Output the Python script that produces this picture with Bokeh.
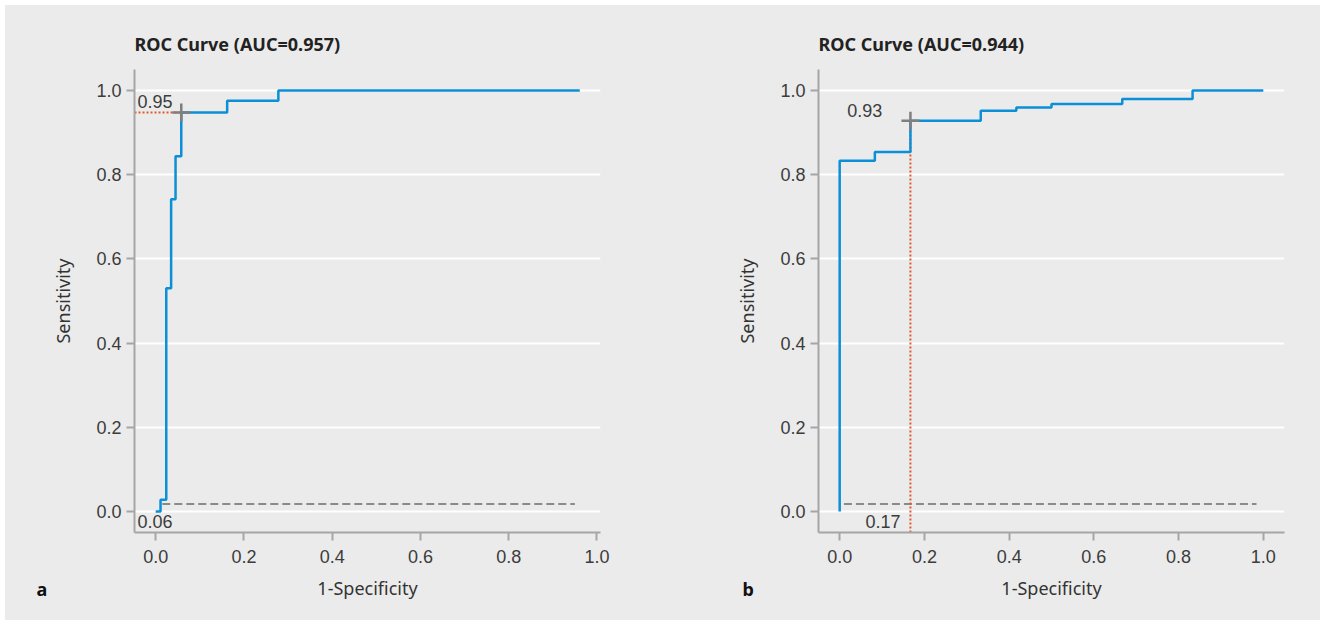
from bokeh.plotting import figure
from bokeh.layouts import row
from bokeh.models import Range1d, FixedTicker, NumeralTickFormatter, Label, Title
from bokeh.embed import file_html
from bokeh.resources import INLINE

# ---------------- data ----------------
titles = ["ROC Curve (AUC=0.957)", "ROC Curve (AUC=0.944)"]
panel_letters = ["a", "b"]
ticks = [0.0, 0.2, 0.4, 0.6, 0.8, 1.0]

fpr_a = [0.0, 0.011, 0.011, 0.024, 0.024, 0.035, 0.035, 0.045, 0.045, 0.058, 0.058,
         0.162, 0.162, 0.278, 0.278, 0.961]
tpr_a = [0.0, 0.0, 0.028, 0.028, 0.53, 0.53, 0.742, 0.742, 0.844, 0.844, 0.948,
         0.948, 0.976, 0.976, 1.0, 1.0]

fpr_b = [0.0, 0.0, 0.083, 0.083, 0.167, 0.167, 0.333, 0.333, 0.417, 0.417, 0.5,
         0.5, 0.667, 0.667, 0.833, 0.833, 1.0]
tpr_b = [0.0, 0.833, 0.833, 0.854, 0.854, 0.928, 0.928, 0.952, 0.952, 0.96, 0.96,
         0.968, 0.968, 0.98, 0.98, 1.0, 1.0]

opt_a = [0.058, 0.948]          # optimal cut-off point (1-spec, sens)
opt_b = [0.167, 0.928]
opt_text_a = ["0.06", "0.95"]
opt_text_b = ["0.17", "0.93"]

ref_x_a = [0.015, 0.95]         # grey dashed reference line
ref_x_b = [0.01, 0.984]
ref_y = 0.018

x_ranges = [(-0.048, 1.008), (-0.05, 1.05)]
y_range = (-0.05, 1.05)

# ---------------- style ----------------
BG = "#ebebeb"
BLUE = "#0b8fd6"
RED = "#e0592f"
GREY_LINE = "#8a8a8a"
AXIS = "#a6a6a6"
TICK_TXT = "#3c3c3c"


def make_panel(i, fpr, tpr, opt, opt_text, ref_x, border_left, border_right,
               lab_pos, letter_offset):
    p = figure(frame_width=466, frame_height=463,
               x_range=Range1d(*x_ranges[i]), y_range=Range1d(*y_range),
               output_backend="svg", toolbar_location=None,
               min_border_left=border_left, min_border_right=border_right,
               min_border_top=64, min_border_bottom=88,
               background_fill_color=BG, border_fill_color=BG,
               outline_line_color=None)
    p.title.text = titles[i]
    p.title.align = "left"
    p.title.text_font = "Noto Sans"
    p.title.text_font_size = "18px"
    p.title.text_font_style = "bold"
    p.title.text_color = "#222222"
    p.title.standoff = 28

    p.xgrid.grid_line_color = None
    p.ygrid.grid_line_color = "white"
    p.ygrid.grid_line_width = 2

    for ax in (p.xaxis[0], p.yaxis[0]):
        ax.ticker = FixedTicker(ticks=ticks)
        ax.formatter = NumeralTickFormatter(format="0.0")
        ax.axis_line_color = AXIS
        ax.axis_line_width = 2
        ax.major_tick_line_color = AXIS
        ax.major_tick_line_width = 2
        ax.major_tick_out = 8
        ax.major_tick_in = 0
        ax.minor_tick_line_color = None
        ax.major_label_text_font = "Liberation Sans"
        ax.major_label_text_font_size = "18px"
        ax.major_label_text_color = TICK_TXT
        ax.axis_label_text_font = "Noto Sans"
        ax.axis_label_text_font_size = "18px"
        ax.axis_label_text_font_style = "normal"
        ax.axis_label_text_color = "#333333"
    p.xaxis.axis_label = "1-Specificity"
    p.yaxis.axis_label = "Sensitivity"
    p.xaxis.major_label_standoff = 9
    p.yaxis.major_label_standoff = 5
    p.xaxis.axis_label_standoff = 10
    p.yaxis.axis_label_standoff = 18

    # reference dashed line
    p.line(ref_x, [ref_y, ref_y], line_color=GREY_LINE, line_width=2,
           line_dash="8 4")

    # red dotted guide to optimal point
    if i == 0:
        p.segment(x0=[x_ranges[i][0]], y0=[opt[1]], x1=[opt[0]], y1=[opt[1]],
                  line_color=RED, line_width=2, line_dash="2 2")
    else:
        p.segment(x0=[opt[0]], y0=[y_range[0]], x1=[opt[0]], y1=[opt[1]],
                  line_color=RED, line_width=2, line_dash="2 2")

    # ROC curve
    p.line(fpr, tpr, line_color=BLUE, line_width=2.5)

    # optimal point marker
    p.scatter([opt[0]], [opt[1]], marker="cross", size=18,
              line_color="#7f7f7f", line_width=2.5)

    # cut-off annotations
    (sx, sy), (ex, ey) = lab_pos
    p.add_layout(Label(x=sx, y=sy, text=opt_text[1], text_font="Liberation Sans",
                       text_font_size="18px", text_color=TICK_TXT,
                       text_baseline="middle", text_align="left"))
    p.add_layout(Label(x=ex, y=ey, text=opt_text[0], text_font="Liberation Sans",
                       text_font_size="18px", text_color=TICK_TXT,
                       text_baseline="middle", text_align="left"))

    # panel letter (a below-title pulled up beside the x-axis label)
    p.add_layout(Title(text=panel_letters[i], align="left", offset=letter_offset,
                       vertical_align="top", standoff=-52,
                       text_font="Noto Sans", text_font_size="18px",
                       text_font_style="bold", text_color="#111111"), "below")
    return p


pa = make_panel(0, fpr_a, tpr_a, opt_a, opt_text_a, ref_x_a, 129, 63,
                [(-0.041, 0.973), (-0.041, -0.024)], -98)
pb = make_panel(1, fpr_b, tpr_b, opt_b, opt_text_b, ref_x_b, 155, 36,
                [(0.018, 0.952), (0.061, -0.024)], -76)

layout = row(pa, pb, margin=(5, 0, 0, 5), styles={"background-color": BG})
open("out.html", "w").write(file_html(layout, INLINE))
